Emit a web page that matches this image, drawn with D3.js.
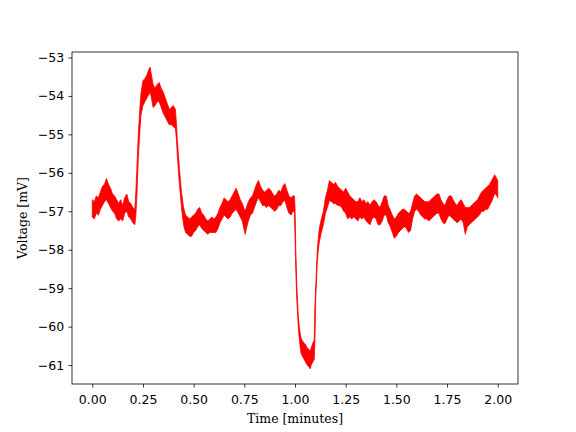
<!DOCTYPE html>
<html>
<head>
<meta charset="utf-8">
<script src="https://cdn.jsdelivr.net/npm/d3@7"></script>
<style>
  html, body { margin: 0; padding: 0; background: #fff; }
  svg { display: block; }
</style>
</head>
<body>
<div id="chart"></div>
<script>
// Time samples (minutes) and upper/lower envelope of the noisy voltage trace (mV)
const timeMin = [
  0.00,0.01,0.02,0.03,0.04,0.05,0.06,0.07,0.08,0.09,
  0.10,0.11,0.12,0.13,0.14,0.15,0.16,0.17,0.18,0.19,
  0.20,0.21,0.215,0.22,0.227,0.235,0.24,0.25,0.26,0.27,
  0.28,0.285,0.29,0.30,0.31,0.32,0.33,0.34,0.35,0.36,
  0.37,0.38,0.39,0.40,0.41,0.415,0.42,0.43,0.44,0.45,
  0.46,0.47,0.48,0.49,0.50,0.51,0.52,0.53,0.54,0.55,
  0.56,0.57,0.58,0.59,0.60,0.61,0.62,0.63,0.64,0.65,
  0.66,0.67,0.68,0.69,0.70,0.71,0.72,0.73,0.74,0.75,
  0.755,0.76,0.77,0.78,0.79,0.80,0.81,0.82,0.83,0.84,
  0.85,0.86,0.87,0.88,0.89,0.90,0.91,0.92,0.93,0.94,
  0.95,0.96,0.97,0.98,0.99,0.997,1.000,1.004,1.008,1.012,
  1.016,1.02,1.025,1.03,1.04,1.05,1.06,1.07,1.075,1.08,
  1.09,1.095,1.098,1.102,1.106,1.11,1.115,1.12,1.13,1.14,
  1.15,1.16,1.17,1.18,1.19,1.20,1.21,1.22,1.23,1.24,
  1.25,1.26,1.27,1.28,1.29,1.30,1.31,1.32,1.33,1.34,
  1.35,1.36,1.37,1.38,1.39,1.40,1.41,1.42,1.43,1.44,
  1.45,1.46,1.47,1.48,1.49,1.50,1.51,1.52,1.53,1.54,
  1.55,1.56,1.57,1.58,1.59,1.60,1.61,1.62,1.63,1.64,
  1.65,1.66,1.67,1.68,1.69,1.70,1.71,1.72,1.73,1.74,
  1.75,1.76,1.77,1.78,1.79,1.80,1.81,1.82,1.83,1.84,
  1.85,1.86,1.87,1.88,1.89,1.90,1.91,1.92,1.93,1.94,
  1.95,1.96,1.97,1.98,1.985,1.99,2.00
];
const voltHigh = [
  -56.70,-56.75,-56.60,-56.65,-56.50,-56.35,-56.30,-56.15,-56.30,-56.40,
  -56.55,-56.60,-56.70,-56.80,-56.70,-56.85,-56.65,-56.55,-56.75,-56.80,
  -56.90,-56.95,-56.50,-55.90,-55.00,-54.30,-53.95,-53.60,-53.55,-53.45,
  -53.30,-53.25,-53.40,-53.70,-53.80,-53.70,-53.65,-53.80,-53.90,-54.05,
  -54.20,-54.35,-54.30,-54.25,-54.35,-54.70,-55.20,-55.90,-56.50,-56.90,
  -57.10,-57.15,-57.20,-57.15,-57.10,-57.05,-56.95,-56.90,-57.05,-57.10,
  -57.20,-57.25,-57.20,-57.15,-57.20,-57.15,-57.05,-56.90,-56.80,-56.65,
  -56.70,-56.75,-56.70,-56.60,-56.50,-56.40,-56.55,-56.70,-56.80,-56.95,
  -57.00,-56.90,-56.75,-56.65,-56.60,-56.45,-56.30,-56.20,-56.35,-56.45,
  -56.50,-56.45,-56.40,-56.45,-56.55,-56.60,-56.55,-56.45,-56.50,-56.35,
  -56.28,-56.45,-56.60,-56.65,-56.60,-56.60,-56.90,-58.00,-58.80,-59.30,
  -59.70,-59.95,-60.15,-60.30,-60.40,-60.45,-60.55,-60.60,-60.65,-60.55,
  -60.40,-60.35,-59.50,-59.00,-58.50,-58.00,-57.70,-57.45,-57.20,-57.00,
  -56.65,-56.45,-56.20,-56.25,-56.30,-56.25,-56.35,-56.40,-56.45,-56.50,
  -56.40,-56.50,-56.60,-56.65,-56.70,-56.75,-56.75,-56.65,-56.75,-56.70,
  -56.80,-56.75,-56.85,-56.75,-56.70,-56.75,-56.85,-56.90,-56.75,-56.60,
  -56.60,-56.85,-56.97,-57.10,-57.20,-57.15,-57.05,-57.00,-56.95,-56.95,
  -57.00,-57.05,-57.00,-56.80,-56.60,-56.55,-56.60,-56.65,-56.70,-56.75,
  -56.75,-56.75,-56.70,-56.65,-56.60,-56.55,-56.55,-56.70,-56.80,-56.85,
  -56.70,-56.60,-56.60,-56.70,-56.80,-56.85,-56.75,-56.70,-56.80,-56.90,
  -56.90,-56.90,-56.85,-56.80,-56.75,-56.70,-56.60,-56.50,-56.45,-56.40,
  -56.35,-56.30,-56.20,-56.10,-56.05,-56.10,-56.20
];
const voltLow = [
  -57.15,-57.20,-57.05,-57.10,-56.95,-56.85,-56.75,-56.70,-56.80,-56.90,
  -57.00,-57.05,-57.20,-57.25,-57.20,-57.25,-57.05,-57.00,-57.15,-57.20,
  -57.30,-57.35,-57.10,-56.60,-55.60,-54.90,-54.50,-54.25,-54.15,-54.05,
  -53.95,-53.90,-54.00,-54.30,-54.25,-54.15,-54.15,-54.30,-54.45,-54.55,
  -54.65,-54.75,-54.75,-54.80,-54.85,-55.10,-55.60,-56.30,-56.90,-57.35,
  -57.55,-57.60,-57.65,-57.65,-57.55,-57.50,-57.40,-57.35,-57.45,-57.50,
  -57.55,-57.60,-57.55,-57.55,-57.55,-57.55,-57.45,-57.30,-57.20,-57.10,
  -57.15,-57.20,-57.15,-57.05,-57.00,-56.95,-57.05,-57.15,-57.25,-57.50,
  -57.60,-57.45,-57.25,-57.10,-57.05,-56.90,-56.75,-56.65,-56.75,-56.85,
  -56.85,-56.90,-56.85,-56.90,-56.95,-57.00,-56.95,-56.85,-56.85,-56.75,
  -56.72,-56.90,-57.05,-57.10,-57.00,-57.00,-57.60,-58.50,-59.20,-59.60,
  -60.00,-60.25,-60.50,-60.70,-60.80,-60.90,-61.00,-61.05,-61.10,-61.00,
  -60.90,-60.85,-60.40,-59.30,-58.80,-58.30,-58.00,-57.80,-57.55,-57.35,
  -57.05,-56.90,-56.72,-56.75,-56.80,-56.80,-56.85,-56.85,-56.90,-57.00,
  -57.05,-57.20,-57.15,-57.20,-57.15,-57.20,-57.25,-57.15,-57.20,-57.15,
  -57.25,-57.30,-57.35,-57.20,-57.15,-57.20,-57.35,-57.35,-57.25,-57.10,
  -57.10,-57.30,-57.40,-57.55,-57.70,-57.65,-57.55,-57.50,-57.45,-57.40,
  -57.45,-57.55,-57.50,-57.20,-57.00,-56.95,-57.00,-57.10,-57.15,-57.20,
  -57.20,-57.25,-57.20,-57.15,-57.10,-57.05,-57.05,-57.20,-57.30,-57.32,
  -57.20,-57.10,-57.15,-57.20,-57.25,-57.30,-57.25,-57.20,-57.30,-57.60,
  -57.40,-57.35,-57.30,-57.25,-57.20,-57.15,-57.10,-57.00,-57.00,-56.95,
  -56.95,-56.85,-56.75,-56.60,-56.55,-56.55,-56.65
];
const xTickValues = [0, 0.25, 0.5, 0.75, 1.0, 1.25, 1.5, 1.75, 2.0];
const yTickValues = [-61, -60, -59, -58, -57, -56, -55, -54, -53];
const xLabel = "Time [minutes]";
const yLabel = "Voltage [mV]";
const traceColor = "#ff0000";

const W = 576, H = 432;
const margin = {left: 72, top: 52, right: 58, bottom: 48};
const iw = W - margin.left - margin.right;
const ih = H - margin.top - margin.bottom;
const fontSize = "12.5px";

const rows = timeMin.map((t, i) => ({t, hi: voltHigh[i], lo: voltLow[i]}));

const tExt = d3.extent(timeMin);
const tPad = (tExt[1] - tExt[0]) * 0.05;
const vMin = d3.min(voltLow), vMax = d3.max(voltHigh);
const vPad = (vMax - vMin) * 0.05;

const x = d3.scaleLinear().domain([tExt[0] - tPad, tExt[1] + tPad]).range([0, iw]);
const y = d3.scaleLinear().domain([vMin - vPad, vMax + vPad]).range([ih, 0]);

const svg = d3.select("#chart").append("svg")
  .attr("width", W).attr("height", H);
const g = svg.append("g").attr("transform", `translate(${margin.left},${margin.top})`);

const defs = svg.append("defs");
defs.append("clipPath").attr("id", "clip").append("rect")
  .attr("width", iw).attr("height", ih);

const area = d3.area()
  .x(d => x(d.t))
  .y0(d => y(d.lo))
  .y1(d => y(d.hi));

g.append("g").attr("clip-path", "url(#clip)")
  .append("path")
  .datum(rows)
  .attr("d", area)
  .attr("fill", traceColor)
  .attr("stroke", traceColor)
  .attr("stroke-width", 0.8)
  .attr("stroke-linejoin", "miter");

const fmtX = d3.format(".2f");
const fmtY = d3.format("d");

const xAxis = g.append("g").attr("transform", `translate(0,${ih})`)
  .call(d3.axisBottom(x).tickValues(xTickValues).tickFormat(fmtX).tickSize(3.5).tickPadding(8));
const yAxis = g.append("g")
  .call(d3.axisLeft(y).tickValues(yTickValues).tickFormat(fmtY).tickSize(3.5).tickPadding(4.4));

[xAxis, yAxis].forEach(ax => {
  ax.select(".domain").remove();
  ax.selectAll(".tick line").attr("stroke", "#000").attr("stroke-width", 0.8);
  ax.selectAll(".tick text")
    .attr("fill", "#000")
    .style("font-family", "'DejaVu Sans', sans-serif")
    .style("font-size", fontSize);
});

// frame
g.append("rect")
  .attr("width", iw).attr("height", ih)
  .attr("fill", "none").attr("stroke", "#000").attr("stroke-width", 0.8);

svg.append("text")
  .attr("x", margin.left + iw / 2)
  .attr("y", 423)
  .attr("text-anchor", "middle")
  .style("font-family", "'DejaVu Serif', serif")
  .style("font-size", fontSize)
  .text(xLabel);

svg.append("text")
  .attr("transform", `translate(27,${margin.top + ih / 2}) rotate(-90)`)
  .attr("text-anchor", "middle")
  .style("font-family", "'DejaVu Serif', serif")
  .style("font-size", fontSize)
  .text(yLabel);
</script>
</body>
</html>
